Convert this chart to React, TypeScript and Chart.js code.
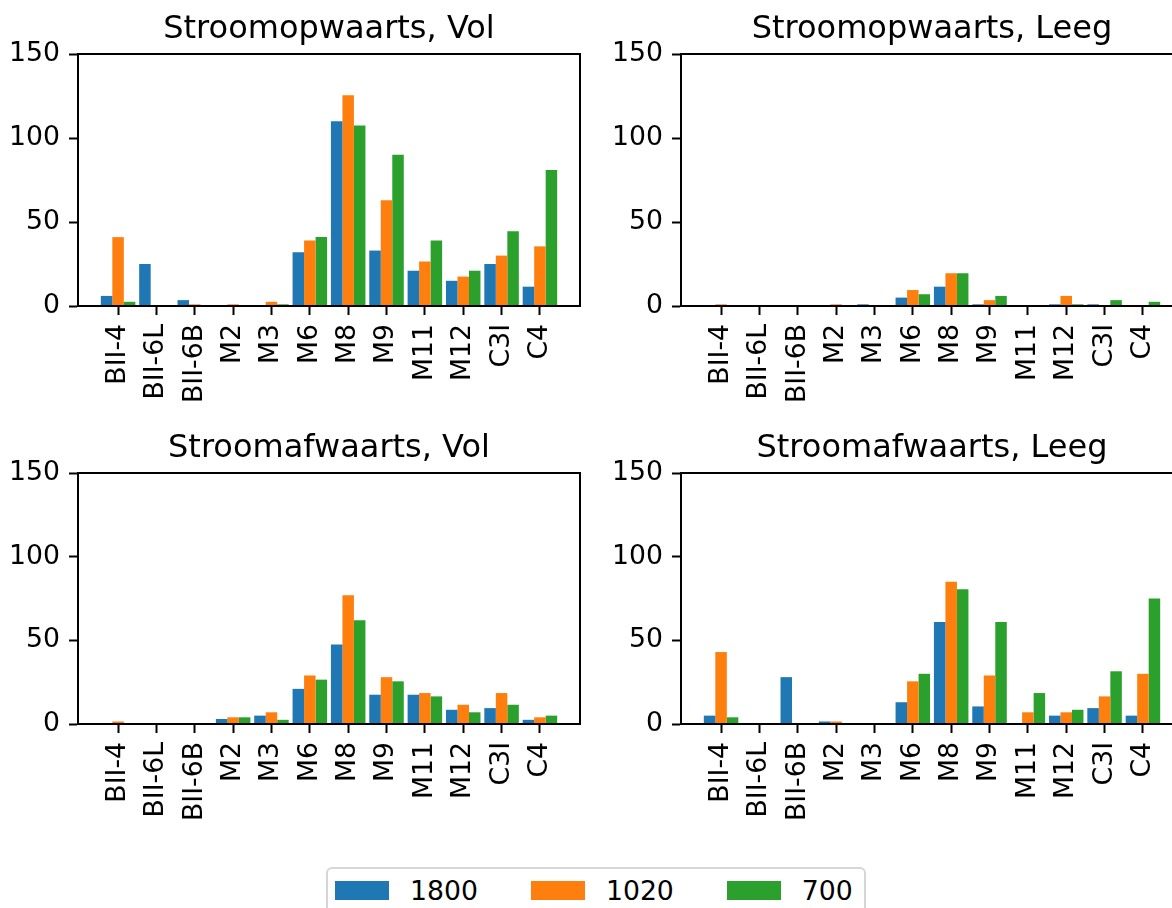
import { useEffect, useRef } from "react";
import { Chart, registerables } from "chart.js";

Chart.register(...registerables);

// Categories on the x axis and the three series
const categories = ["BII-4", "BII-6L", "BII-6B", "M2", "M3", "M6", "M8", "M9", "M11", "M12", "C3I", "C4"];
const seriesLabels = ["1800", "1020", "700"];
const seriesColors = ["#1f77b4", "#ff7f0e", "#2ca02c"];
const yTicks = [0, 50, 100, 150];

// Stroomopwaarts, Vol
const upFull1800 = [6, 25, 3.5, 0, 0, 32, 110, 33, 21, 15, 25, 11.5];
const upFull1020 = [41, 0, 1, 1, 2.5, 39, 125.5, 63, 26.5, 17.5, 30, 35.5];
const upFull700 = [2.5, 0, 0, 0, 1, 41, 107.5, 90, 39, 21, 44.5, 81];

// Stroomopwaarts, Leeg
const upEmpty1800 = [0, 0, 0, 0, 1, 5, 11.5, 1, 0, 1, 1, 0];
const upEmpty1020 = [1, 0, 0, 1, 0, 9.5, 19.5, 3.5, 0, 6, 0, 0];
const upEmpty700 = [0, 0, 0, 0, 0, 7, 19.5, 6, 0, 1, 3.5, 2.5];

// Stroomafwaarts, Vol
const downFull1800 = [0, 0, 0, 3, 5, 21, 47.5, 17.5, 17.5, 8.5, 9.5, 2.5];
const downFull1020 = [1.5, 0, 0, 4, 7, 29, 77, 28, 18.5, 11.5, 18.5, 4];
const downFull700 = [0, 0, 0, 4, 2.5, 26.5, 62, 25.5, 16.5, 7, 11.5, 5];

// Stroomafwaarts, Leeg
const downEmpty1800 = [5, 0, 28, 1.5, 0, 13, 61, 10.5, 0, 5, 9.5, 5];
const downEmpty1020 = [43, 0, 0, 1.5, 0, 25.5, 85, 29, 7, 7, 16.5, 30];
const downEmpty700 = [4, 0, 0, 0, 0, 30, 80.5, 61, 18.5, 8.5, 31.5, 75];

const FONT_FAMILY = "'DejaVu Sans', 'Liberation Sans', sans-serif";
const TICK_SIZE = 26.7;
const TITLE_SIZE = 32;

// Draws the closed box around the plotting area, on top of the bars
const framePlugin = {
  id: "frame",
  afterDatasetsDraw(chart: any) {
    const { ctx, chartArea: a } = chart;
    ctx.save();
    ctx.strokeStyle = "#000";
    ctx.lineWidth = 2;
    ctx.strokeRect(a.left, a.top, a.right - a.left, a.bottom - a.top);
    ctx.restore();
  },
};

// Panel title, centred over the plotting area rather than the whole canvas
const areaTitlePlugin = {
  id: "areaTitle",
  afterDraw(chart: any, _args: any, opts: any) {
    const { ctx, chartArea: a } = chart;
    ctx.save();
    ctx.fillStyle = "#000";
    ctx.font = `normal ${TITLE_SIZE}px ${FONT_FAMILY}`;
    ctx.textAlign = "center";
    ctx.textBaseline = "alphabetic";
    ctx.fillText(opts.text, (a.left + a.right) / 2, a.top - 16);
    ctx.restore();
  },
};

type PanelProps = {
  title: string;
  series: number[][];
  left: number;
  top: number;
  height: number;
};

function Panel({ title, series, left, top, height }: PanelProps) {
  const ref = useRef<HTMLCanvasElement>(null);

  useEffect(() => {
    const tickFont = { family: FONT_FAMILY, size: TICK_SIZE };
    const axisGrid = {
      display: true,
      drawOnChartArea: false,
      drawTicks: true,
      tickLength: 9,
      tickWidth: 2,
      tickColor: "#000",
      offset: false,
    };
    const axisBorder = { display: true, color: "#000", width: 2 };

    const chart = new Chart(ref.current as HTMLCanvasElement, {
      type: "bar",
      data: {
        datasets: series.map((vals, k) => ({
          label: seriesLabels[k],
          data: vals.map((v, i) => ({ x: i, y: v })),
          backgroundColor: seriesColors[k],
          borderWidth: 0,
          barPercentage: 1,
          categoryPercentage: 0.9,
        })),
      },
      options: {
        responsive: false,
        animation: false,
        devicePixelRatio: 1,
        layout: { padding: { left: 0, right: 10, top: 54, bottom: 0 } },
        plugins: {
          legend: { display: false },
          tooltip: { enabled: false },
          title: { display: false },
          areaTitle: { text: title },
        },
        scales: {
          x: {
            type: "linear",
            min: -1.045,
            max: 12.045,
            bounds: "data",
            offset: false,
            afterBuildTicks: (s: any) => {
              s.ticks = categories.map((_, i) => ({ value: i }));
            },
            afterFit: (s: any) => {
              s.height = 110;
            },
            grid: axisGrid,
            border: axisBorder,
            ticks: {
              autoSkip: false,
              minRotation: 90,
              maxRotation: 90,
              padding: 9,
              color: "#000",
              font: tickFont,
              callback: (v: any) => categories[v] ?? "",
            },
          },
          y: {
            min: 0,
            max: 150,
            bounds: "data",
            afterBuildTicks: (s: any) => {
              s.ticks = yTicks.map((v) => ({ value: v }));
            },
            afterFit: (s: any) => {
              s.width = 78;
            },
            grid: axisGrid,
            border: axisBorder,
            ticks: {
              padding: 9,
              color: "#000",
              font: tickFont,
            },
          },
        },
      } as any,
      plugins: [framePlugin, areaTitlePlugin],
    });
    return () => chart.destroy();
  }, [title, series, height]);

  return (
    <canvas
      ref={ref}
      width={590}
      height={height}
      style={{ position: "absolute", left, top, width: 590, height }}
    />
  );
}

function Legend() {
  return (
    <div
      style={{
        position: "absolute",
        left: 326,
        top: 867,
        width: 540,
        height: 52,
        boxSizing: "border-box",
        border: "2px solid #d6d6d6",
        borderRadius: 6,
        background: "#fff",
        fontFamily: FONT_FAMILY,
        fontSize: TICK_SIZE,
        color: "#000",
        display: "flex",
        alignItems: "flex-start",
        paddingLeft: 7,
        paddingTop: 8,
      }}
    >
      {seriesLabels.map((lab, k) => (
        <div
          key={lab}
          style={{ display: "flex", alignItems: "center", height: 27, marginRight: k < seriesLabels.length - 1 ? 53 : 0 }}
        >
          <span
            style={{ display: "inline-block", width: 54, height: 19, background: seriesColors[k], marginRight: 21 }}
          />
          <span style={{ lineHeight: "27px", whiteSpace: "nowrap" }}>{lab}</span>
        </div>
      ))}
    </div>
  );
}

export default function App() {
  return (
    <div
      style={{
        position: "absolute",
        left: 0,
        top: 0,
        width: 1172,
        height: 908,
        overflow: "hidden",
        background: "#fff",
      }}
    >
      <Panel title="Stroomopwaarts, Vol" series={[upFull1800, upFull1020, upFull700]} left={0} top={0} height={416} />
      <Panel title="Stroomopwaarts, Leeg" series={[upEmpty1800, upEmpty1020, upEmpty700]} left={603} top={0} height={416} />
      <Panel title="Stroomafwaarts, Vol" series={[downFull1800, downFull1020, downFull700]} left={0} top={419} height={415} />
      <Panel title="Stroomafwaarts, Leeg" series={[downEmpty1800, downEmpty1020, downEmpty700]} left={603} top={419} height={415} />
      <Legend />
    </div>
  );
}
